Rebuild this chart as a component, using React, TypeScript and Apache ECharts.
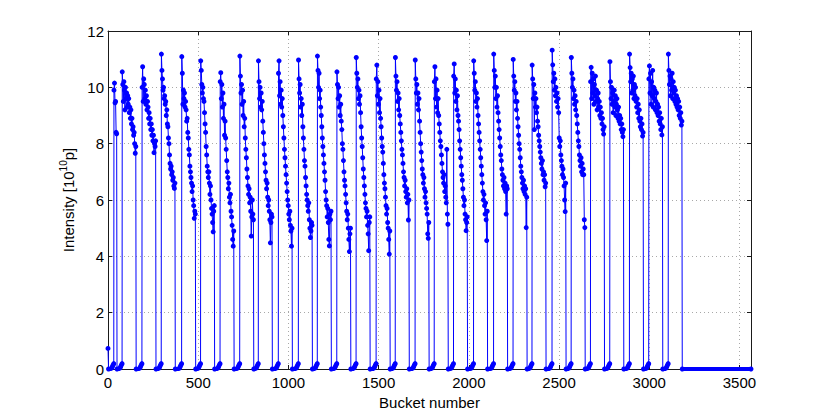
import React, { useEffect, useRef } from "react";
import * as echarts from "echarts";

// ---- axis data ----
const bucketCount = 3564;
const xTickValues = [0, 500, 1000, 1500, 2000, 2500, 3000, 3500];
const yTickValues = [0, 2, 4, 6, 8, 10, 12];

// ---- bucket intensities [1e10 p] ----
const firstBucketValue = 0.73; // bucket 0
const pilotStart = 33;
const pilotValues = [9.9, 10.15, 9.45, 9.5, 8.4, 8.35];

const trainStarts = [
  79, 189, 296, 409, 514, 622, 731, 834, 945, 1056, 1161, 1269, 1376, 1487, 1593,
  1703, 1809, 1916, 2027, 2138, 2246, 2351, 2462, 2568, 2675, 2782, 2891, 2998, 3106,
];

const t02 = [10.55, 10.1, 9.5, 10.2, 9.9, 9.2, 10.0, 9.6, 9.8, 9.3, 9.7, 9.4, 9.6, 9.1, 9.3, 8.9, 9.2, 8.7, 8.9, 8.5, 8.6, 8.3, 8.4, 8.0, 7.66, 7.9];
const t03 = [10.0, 10.73, 9.5, 10.3, 10.1, 9.6, 9.9, 9.4, 9.7, 9.2, 9.5, 9.3, 8.9, 9.1, 8.7, 8.9, 8.5, 8.7, 8.3, 8.5, 8.1, 8.3, 7.68, 8.0, 7.9, 8.1];
const t04 = [11.18, 10.6, 10.3, 9.9, 10.0, 9.6, 9.7, 9.4, 9.5, 9.0, 9.2, 8.7, 8.6, 8.2, 8.0, 7.6, 7.3, 7.1, 7.2, 6.9, 7.0, 6.7, 6.8, 6.5, 6.41, 6.6];
const t05 = [11.09, 10.5, 9.4, 9.9, 9.6, 9.8, 9.3, 9.5, 9.2, 8.8, 8.9, 8.4, 8.2, 7.8, 7.6, 7.2, 7.0, 6.8, 6.6, 6.3, 6.5, 6.0, 5.8, 5.35, 5.6, 5.5];
const t06 = [10.94, 10.6, 10.1, 9.8, 10.0, 9.6, 9.5, 9.1, 8.7, 8.4, 7.9, 7.6, 7.2, 7.0, 6.8, 7.0, 6.6, 6.2, 6.5, 6.0, 5.7, 5.5, 5.2, 4.87, 5.6, 5.8];
const t07 = [10.2, 10.52, 9.6, 10.1, 9.3, 9.8, 8.9, 9.4, 8.3, 8.8, 8.2, 7.8, 7.4, 7.0, 6.8, 6.4, 6.6, 6.1, 5.9, 6.2, 5.6, 5.4, 5.1, 4.6, 4.36, 4.9];
const t08 = [11.11, 10.4, 9.8, 10.1, 9.4, 9.9, 9.0, 9.5, 8.6, 8.9, 8.2, 7.8, 7.5, 7.1, 6.8, 6.5, 6.2, 6.4, 5.9, 6.1, 5.6, 4.72, 5.4, 6.0, 5.5, 5.3];
const t09 = [10.94, 10.2, 9.6, 10.0, 9.3, 9.8, 9.2, 9.5, 8.8, 8.4, 8.0, 7.6, 7.3, 7.0, 6.7, 6.4, 6.6, 6.1, 5.8, 6.0, 5.6, 5.3, 4.48, 5.2, 5.5, 5.4];
const t10 = [10.5, 10.94, 9.7, 10.2, 9.4, 9.9, 9.3, 9.6, 9.0, 8.6, 8.2, 7.8, 7.5, 7.2, 6.9, 6.6, 6.3, 6.0, 5.8, 5.5, 5.3, 5.6, 5.1, 4.9, 4.36, 5.0];
const t11 = [10.97, 10.3, 9.8, 10.1, 9.3, 9.6, 9.0, 9.4, 8.6, 8.2, 7.8, 7.4, 7.2, 6.8, 6.5, 6.2, 6.0, 5.8, 5.6, 5.9, 5.3, 5.0, 4.67, 4.9, 5.2, 5.1];
const t12 = [11.11, 10.6, 10.0, 10.5, 9.6, 9.9, 9.3, 9.0, 8.6, 8.2, 7.9, 7.6, 7.3, 7.0, 6.7, 6.3, 6.0, 5.8, 5.4, 5.7, 5.2, 4.6, 4.37, 5.5, 5.3, 5.6];
const t13 = [10.55, 10.1, 9.6, 10.0, 9.3, 9.7, 9.0, 9.4, 8.8, 8.5, 8.0, 7.8, 7.4, 7.0, 6.7, 6.5, 6.2, 5.9, 5.6, 5.3, 5.5, 5.0, 4.6, 4.17, 4.8, 5.0];
const t14 = [11.06, 10.5, 10.0, 10.3, 9.6, 9.9, 9.4, 9.7, 9.1, 8.6, 8.2, 7.9, 7.5, 7.1, 6.8, 6.5, 6.2, 5.9, 5.7, 5.4, 5.6, 5.1, 4.8, 4.2, 5.2, 5.4];
const t15 = [10.3, 10.79, 9.7, 10.2, 9.4, 9.9, 9.1, 9.6, 8.9, 8.6, 8.2, 7.9, 7.7, 7.3, 6.9, 6.6, 6.4, 6.1, 5.8, 5.5, 5.7, 5.2, 5.0, 4.6, 4.08, 4.9];
const t16 = [11.06, 10.4, 9.9, 10.2, 9.5, 9.8, 9.2, 9.6, 9.0, 8.7, 8.4, 8.1, 7.8, 7.6, 7.3, 7.0, 6.8, 6.5, 6.7, 6.3, 6.1, 6.4, 5.9, 6.2, 5.29, 6.0];
const t17 = [10.97, 10.3, 9.8, 10.1, 9.4, 9.8, 9.2, 9.6, 8.8, 8.4, 8.0, 7.7, 7.4, 7.1, 6.9, 6.6, 6.8, 6.4, 6.1, 6.3, 5.9, 5.7, 5.5, 4.8, 4.64, 5.2];
const t18 = [10.2, 10.73, 9.6, 10.3, 9.3, 9.9, 9.1, 9.6, 9.0, 8.7, 8.4, 8.1, 7.9, 7.6, 7.3, 7.0, 6.8, 6.6, 6.9, 6.3, 6.5, 6.1, 5.9, 7.8, 5.5, 5.14];
const t19 = [10.4, 10.83, 9.8, 10.3, 9.5, 9.9, 9.2, 9.7, 9.0, 8.8, 8.5, 8.1, 7.8, 7.5, 7.2, 6.9, 6.7, 6.4, 6.1, 5.8, 6.0, 5.5, 5.3, 4.91, 5.2, 5.4];
const t20 = [10.94, 10.5, 9.9, 10.2, 9.5, 9.8, 9.3, 9.6, 9.0, 8.7, 8.4, 8.1, 7.8, 7.5, 7.2, 6.9, 6.6, 6.3, 6.0, 6.2, 5.8, 5.5, 5.9, 5.3, 4.56, 5.6];
const t21 = [11.18, 10.6, 10.0, 10.4, 9.6, 10.0, 9.3, 9.7, 9.1, 8.8, 8.5, 8.2, 7.9, 7.6, 7.4, 7.1, 6.9, 6.7, 6.5, 6.8, 6.4, 6.6, 6.3, 5.5, 6.5, 6.4];
const t22 = [10.99, 10.4, 9.9, 10.2, 9.5, 9.8, 9.2, 9.5, 8.9, 8.6, 8.3, 8.0, 7.8, 7.5, 7.2, 7.0, 6.8, 6.6, 6.4, 6.7, 6.3, 6.5, 6.2, 6.4, 5.02, 6.1];
const t23 = [10.79, 10.3, 9.6, 10.1, 8.5, 9.8, 9.3, 9.6, 9.1, 9.3, 8.8, 8.6, 8.3, 8.1, 7.9, 7.7, 7.5, 7.3, 7.1, 7.4, 6.9, 7.0, 6.7, 6.9, 6.47, 6.6];
const t24 = [11.32, 10.8, 10.2, 10.5, 9.9, 10.3, 9.7, 10.0, 9.5, 9.8, 9.3, 9.6, 9.1, 8.2, 7.9, 8.1, 7.6, 7.4, 7.2, 6.9, 7.1, 6.8, 6.5, 6.0, 5.59, 6.6];
const t25 = [11.06, 10.5, 10.0, 10.3, 9.6, 9.9, 9.4, 9.7, 9.2, 9.5, 9.0, 8.7, 8.4, 8.1, 7.9, 7.6, 7.4, 7.2, 7.5, 7.0, 7.3, 6.9, 7.1, 6.9, 5.3, 5.02];
const t26 = [10.2, 10.71, 9.6, 10.5, 9.8, 10.3, 9.4, 10.1, 9.7, 10.4, 9.5, 9.9, 9.2, 9.6, 9.8, 9.3, 9.5, 9.0, 9.3, 8.9, 9.1, 8.7, 8.9, 8.5, 8.34, 8.6];
const t27 = [10.91, 10.2, 9.6, 10.0, 9.4, 9.8, 9.1, 9.5, 9.9, 9.3, 9.7, 9.0, 9.4, 9.6, 9.2, 8.9, 9.3, 8.8, 9.0, 8.7, 8.9, 8.5, 8.7, 8.4, 8.25, 8.5];
const t28 = [11.18, 10.7, 10.2, 10.5, 9.8, 10.3, 9.9, 10.4, 9.6, 10.1, 9.7, 10.0, 9.5, 9.3, 9.6, 9.1, 9.4, 8.9, 9.2, 8.8, 8.6, 8.9, 8.5, 8.7, 8.27, 8.4];
const t29 = [10.3, 10.76, 9.8, 10.5, 9.4, 10.2, 9.7, 10.6, 9.3, 10.0, 9.6, 9.9, 9.2, 9.5, 9.8, 9.1, 9.4, 9.0, 9.3, 8.8, 9.1, 8.7, 8.5, 8.9, 8.31, 8.6];
const t30 = [11.18, 10.6, 10.1, 10.4, 9.7, 10.3, 9.9, 10.5, 9.6, 10.2, 9.8, 10.0, 9.5, 9.9, 9.4, 9.7, 9.3, 9.6, 9.2, 9.5, 9.0, 9.3, 8.9, 9.1, 8.66, 8.8];

const trainValues = [
  t02, t03, t04, t05, t06, t07, t08, t09, t10, t11, t12, t13, t14, t15, t16,
  t17, t18, t19, t20, t21, t22, t23, t24, t25, t26, t27, t28, t29, t30,
];

const bunchSpacing = 3; // buckets between plotted bunches
// small satellite "foot" before each train
const footOffsets = [-13, -9, -5, -1];
const footValues = [0.03, 0.08, 0.14, 0.19];

function buildData() {
  const groups = [{ start: pilotStart, values: pilotValues }].concat(
    trainStarts.map((s, i) => ({ start: s, values: trainValues[i] }))
  );
  const main: any[] = [[0, firstBucketValue], [3, 0]];
  const band: any[] = [];
  let prevEnd = 3;
  groups.forEach((g) => {
    const footStart = g.start + footOffsets[0];
    band.push([prevEnd, 0], [footStart, 0], [footStart + 1, "-"]);
    footOffsets.forEach((o, k) => main.push([g.start + o, footValues[k]]));
    g.values.forEach((v, i) => main.push([g.start + i * bunchSpacing, v]));
    const end = g.start + (g.values.length - 1) * bunchSpacing + 2;
    main.push([end, 0]);
    prevEnd = end;
  });
  main.push([bucketCount, 0]);
  band.push([prevEnd, 0], [bucketCount, 0]);
  return { main, band };
}

export default function App() {
  const ref = useRef<HTMLDivElement>(null);
  useEffect(() => {
    if (!ref.current) return;
    const chart = echarts.init(ref.current, undefined, { renderer: "svg" });
    const { main, band } = buildData();
    const font = "'Liberation Sans', Arial, Helvetica, sans-serif";
    const axisColor = "#1a1a1a";
    const gridLine = { show: true, lineStyle: { color: "#a8a8a8", type: [1, 3] as any, width: 1 } };
    const grid = { left: 108, right: 79, top: 31, bottom: 46 };
    chart.setOption({
      animation: false,
      backgroundColor: "#ffffff",
      textStyle: { fontFamily: font },
      grid,
      xAxis: [
        {
          type: "value",
          min: 0,
          max: bucketCount,
          interval: 500,
          position: "bottom",
          name: "Bucket number",
          nameLocation: "middle",
          nameGap: 22,
          nameTextStyle: { fontSize: 15, color: "#000", fontFamily: font },
          axisLine: { show: true, onZero: false, lineStyle: { color: axisColor, width: 1 } },
          axisTick: { show: true, inside: true, length: 4, lineStyle: { color: axisColor } },
          axisLabel: {
            fontSize: 15,
            color: "#000",
            margin: 6,
            fontFamily: font,
            formatter: (v: number) => (xTickValues.includes(v) ? String(v) : ""),
          },
          splitLine: gridLine,
        },
        {
          type: "value",
          min: 0,
          max: bucketCount,
          interval: 500,
          position: "top",
          axisLine: { show: true, onZero: false, lineStyle: { color: axisColor, width: 1 } },
          axisTick: { show: true, inside: true, length: 4, lineStyle: { color: axisColor } },
          axisLabel: { show: false },
          splitLine: { show: false },
        },
      ],
      yAxis: [
        {
          type: "value",
          min: 0,
          max: 12,
          interval: 2,
          position: "left",
          name: "{n|Intensity [10}{sup|10}{n|p]}",
          nameLocation: "middle",
          nameGap: 26,
          nameTextStyle: {
            fontFamily: font,
            color: "#000",
            rich: {
              n: { fontSize: 15, fontFamily: font, color: "#000", verticalAlign: "bottom" },
              sup: { fontSize: 10, fontFamily: font, color: "#000", verticalAlign: "top", padding: [0, 0, 8, 0] },
            },
          },
          axisLine: { show: true, onZero: false, lineStyle: { color: axisColor, width: 1 } },
          axisTick: { show: true, inside: true, length: 4, lineStyle: { color: axisColor } },
          axisLabel: {
            fontSize: 15,
            color: "#000",
            margin: 4,
            fontFamily: font,
            formatter: (v: number) => (yTickValues.includes(v) ? String(v) : ""),
          },
          splitLine: gridLine,
        },
        {
          type: "value",
          min: 0,
          max: 12,
          interval: 2,
          position: "right",
          axisLine: { show: true, onZero: false, lineStyle: { color: axisColor, width: 1 } },
          axisTick: { show: true, inside: true, length: 4, lineStyle: { color: axisColor } },
          axisLabel: { show: false },
          splitLine: { show: false },
        },
      ],
      series: [
        {
          type: "line",
          data: band,
          xAxisIndex: 0,
          yAxisIndex: 0,
          symbol: "none",
          clip: false,
          connectNulls: false,
          lineStyle: { color: "#0000ff", width: 4 },
          z: 2,
          silent: true,
        },
        {
          type: "line",
          data: main,
          xAxisIndex: 0,
          yAxisIndex: 0,
          symbol: "circle",
          symbolSize: 5,
          showSymbol: true,
          showAllSymbol: true,
          clip: false,
          itemStyle: { color: "#0000ff" },
          lineStyle: { color: "#0000ff", width: 1 },
          z: 3,
          silent: true,
        },
      ],
    });
    return () => chart.dispose();
  }, []);
  return (
    <div
      ref={ref}
      style={{ position: "fixed", left: 0, top: 0, width: 830, height: 415, background: "#fff" }}
    />
  );
}
